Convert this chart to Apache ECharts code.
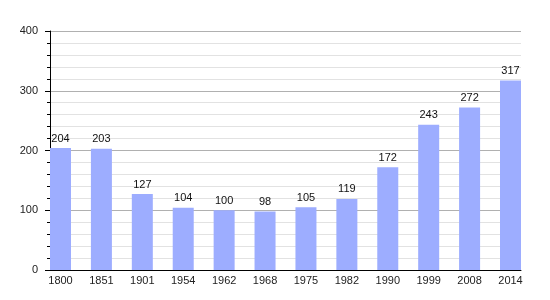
<!DOCTYPE html>
<html>
<head>
<meta charset="utf-8">
<script src="https://cdn.jsdelivr.net/npm/echarts@6/dist/echarts.min.js"></script>
<style>
html,body{margin:0;padding:0;background:#fff;}
#chart{width:550px;height:300px;}
</style>
</head>
<body>
<div id="chart"></div>
<script>
var years = ['1800','1851','1901','1954','1962','1968','1975','1982','1990','1999','2008','2014'];
var population = [204, 203, 127, 104, 100, 98, 105, 119, 172, 243, 272, 317];
var yTicks = [0, 100, 200, 300, 400];

var chart = echarts.init(document.getElementById('chart'), null, {renderer: 'canvas'});
var font = 'Liberation Sans, Arial, sans-serif';
chart.setOption({
  animation: false,
  backgroundColor: '#ffffff',
  grid: [
    {left: 50, right: 29, top: 31, bottom: 30},
    {left: 60.5, right: 39.5, top: 31, bottom: 30}
  ],
  xAxis: [
    {
      gridIndex: 0, type: 'value', min: 0, max: 1,
      axisLine: {show: true, onZero: false, lineStyle: {color: '#000', width: 1}},
      axisTick: {show: false}, axisLabel: {show: false}, splitLine: {show: false}
    },
    {
      gridIndex: 1, type: 'category', data: years, boundaryGap: false,
      axisLine: {show: false}, axisTick: {show: false}, splitLine: {show: false},
      axisLabel: {color: '#222', fontSize: 11, fontFamily: font, margin: 5, interval: 0}
    }
  ],
  yAxis: [
    {
      gridIndex: 0, type: 'value', min: yTicks[0], max: yTicks[yTicks.length - 1], interval: 100,
      axisLine: {show: true, lineStyle: {color: '#000', width: 1}},
      axisTick: {show: true, length: 5, lineStyle: {color: '#000'}},
      minorTick: {show: true, splitNumber: 5, length: 3, lineStyle: {color: '#000'}},
      axisLabel: {color: '#222', fontSize: 11, fontFamily: font, margin: 12},
      splitLine: {show: true, lineStyle: {color: '#b0b0b0', width: 1}},
      minorSplitLine: {show: true, lineStyle: {color: '#e2e2e2', width: 1}}
    },
    {
      gridIndex: 1, type: 'value', min: yTicks[0], max: yTicks[yTicks.length - 1],
      show: false, splitLine: {show: false}
    }
  ],
  series: [
    {
      type: 'bar', xAxisIndex: 1, yAxisIndex: 1,
      data: population, barWidth: 21,
      itemStyle: {color: '#9dadff'},
      label: {show: true, position: 'top', distance: 4, color: '#111', fontSize: 11, fontFamily: font}
    }
  ]
});
</script>
</body>
</html>
